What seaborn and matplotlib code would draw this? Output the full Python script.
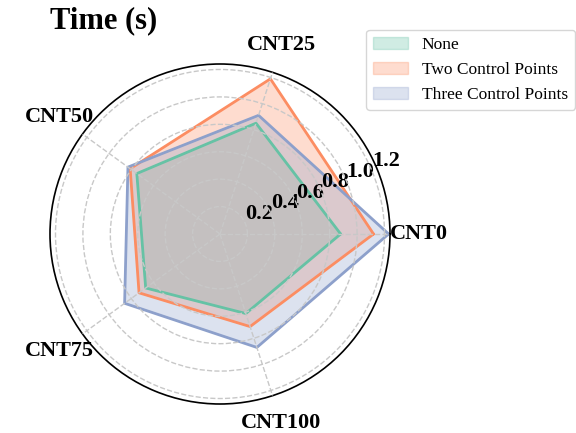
import numpy as np
import matplotlib
matplotlib.use("Agg")
import matplotlib.pyplot as plt
import seaborn as sns

categories = ["CNT0", "CNT25", "CNT50", "CNT75", "CNT100"]
series_names = ["None", "Two Control Points", "Three Control Points"]
none_vals = [0.88, 0.85, 0.75, 0.67, 0.61]
two_vals = [1.12, 1.19, 0.81, 0.73, 0.71]
three_vals = [1.23, 0.91, 0.83, 0.86, 0.87]
rticks = [0.2, 0.4, 0.6, 0.8, 1.0, 1.2]
rtick_labels = ["0.2", "0.4", "0.6", "0.8", "1.0", "1.2"]

sns.set_style("white")
plt.rcParams["font.family"] = ["Liberation Serif", "DejaVu Serif"]
plt.rcParams["text.color"] = "black"
plt.rcParams["xtick.color"] = "black"
plt.rcParams["ytick.color"] = "black"
colors = sns.color_palette("Set2", 3)

fig = plt.figure(figsize=(5.76, 4.33), dpi=100)
ax = fig.add_axes([50 / 576, 29 / 433, 340 / 576, 340 / 433], projection="polar")
ax.set_axisbelow(False)

n = len(categories)
angles = np.linspace(0, 2 * np.pi, n, endpoint=False).tolist()
angles_c = angles + angles[:1]

for name, vals, c in zip(series_names, [none_vals, two_vals, three_vals], colors):
    v = list(vals) + [vals[0]]
    ax.plot(angles_c, v, color=c, linewidth=2)
    ax.fill(angles_c, v, color=c, alpha=0.3, label=name)

ax.set_ylim(0, 1.24)
ax.set_xticks(angles)
ax.set_xticklabels(categories, fontsize=16, fontweight="bold", color="black")
ax.set_yticks(rticks)
ax.set_yticklabels(rtick_labels, fontsize=16, fontweight="bold", color="black")
ax.set_rlabel_position(22.5)
ax.grid(True, linestyle="--", color="#c8c8c8", linewidth=1)
ax.spines["polar"].set_color("black")
ax.spines["polar"].set_linewidth(1.2)
ax.tick_params(axis="x", pad=10)

ax.set_title("Time (s)", loc="left", fontsize=22, fontweight="bold", color="black",
             x=0.0, y=1.08)

fig.legend(loc="upper right", bbox_to_anchor=(575 / 576, 1 - 30 / 433), borderaxespad=0,
           fontsize=12.5, frameon=True)

fig.savefig("out.png", dpi=100)
